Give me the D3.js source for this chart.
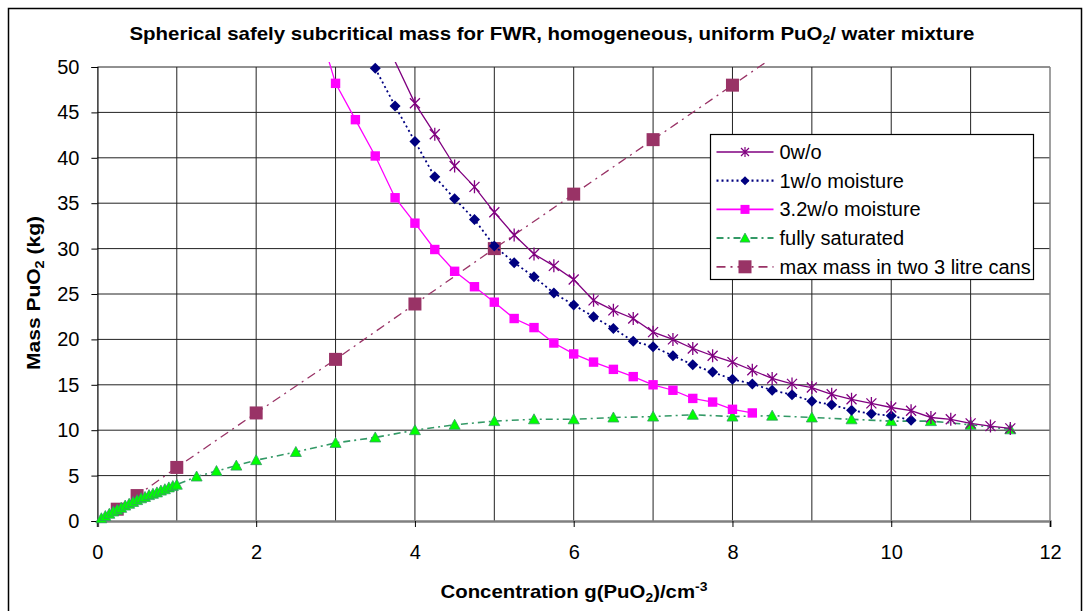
<!DOCTYPE html>
<html>
<head>
<meta charset="utf-8">
<script src="https://cdn.jsdelivr.net/npm/d3@7"></script>
<style>
body { margin: 0; background: #fff; }
svg { display: block; }
text { font-family: "Liberation Sans", Arial, sans-serif; fill: #000; }
</style>
</head>
<body>
<svg width="1088" height="611"></svg>
<script>
'use strict';

// 0w/o
var x0 = [3.75, 4, 4.25, 4.5, 4.75, 5, 5.25, 5.5, 5.75, 6, 6.25, 6.5, 6.75, 7, 7.25, 7.5, 7.75, 8, 8.25, 8.5, 8.75, 9, 9.25, 9.5, 9.75, 10, 10.25, 10.5, 10.75, 11, 11.25, 11.5];
var y0 = [50.6, 46.0, 42.6, 39.1, 36.8, 34.0, 31.5, 29.4, 28.1, 26.6, 24.3, 23.2, 22.3, 20.8, 20.0, 19.0, 18.2, 17.5, 16.6, 15.7, 15.1, 14.7, 13.95, 13.4, 12.95, 12.5, 12.15, 11.4, 11.2, 10.75, 10.45, 10.2];
// 1w/o moisture
var x1 = [3.5, 3.75, 4, 4.25, 4.5, 4.75, 5, 5.25, 5.5, 5.75, 6, 6.25, 6.5, 6.75, 7, 7.25, 7.5, 7.75, 8, 8.25, 8.5, 8.75, 9, 9.25, 9.5, 9.75, 10, 10.25];
var y1 = [49.85, 45.7, 41.8, 37.9, 35.5, 33.2, 30.3, 28.45, 26.9, 25.1, 23.8, 22.5, 21.2, 19.8, 19.2, 18.2, 17.2, 16.4, 15.6, 15.1, 14.4, 13.9, 13.2, 12.8, 12.2, 11.8, 11.6, 11.1];
// 3.2w/o moisture
var x32 = [2.75, 3, 3.25, 3.5, 3.75, 4, 4.25, 4.5, 4.75, 5, 5.25, 5.5, 5.75, 6, 6.25, 6.5, 6.75, 7, 7.25, 7.5, 7.75, 8, 8.25];
var y32 = [55.5, 48.2, 44.2, 40.2, 35.6, 32.8, 29.9, 27.5, 25.8, 24.1, 22.3, 21.3, 19.6, 18.4, 17.5, 16.7, 15.9, 15.0, 14.4, 13.5, 13.1, 12.3, 11.9];
// fully saturated
var xSat = [0.05, 0.1, 0.15, 0.2, 0.25, 0.3, 0.35, 0.4, 0.45, 0.5, 0.55, 0.6, 0.65, 0.7, 0.75, 0.8, 0.85, 0.9, 0.95, 1, 1.25, 1.5, 1.75, 2, 2.5, 3, 3.5, 4, 4.5, 5, 5.5, 6, 6.5, 7, 7.5, 8, 8.5, 9, 9.5, 10, 10.5, 11, 11.5];
var ySat = [0.3, 0.55, 0.8, 1.05, 1.25, 1.45, 1.7, 1.9, 2.1, 2.3, 2.5, 2.65, 2.85, 3.0, 3.15, 3.35, 3.5, 3.7, 3.85, 4.0, 4.9, 5.5, 6.1, 6.7, 7.6, 8.6, 9.2, 10.0, 10.6, 11.0, 11.2, 11.2, 11.4, 11.5, 11.7, 11.5, 11.6, 11.4, 11.2, 11.0, 11.0, 10.6, 10.1];
// max mass in two 3 litre cans
var xCan = [0.25, 0.5, 1, 2, 3, 4, 5, 6, 7, 8, 9];
var yCan = [1.3, 2.8, 5.9, 11.9, 17.8, 23.9, 30, 36, 42, 48, 54];

var xTicks = [0, 2, 4, 6, 8, 10, 12];
var yTicks = [0, 5, 10, 15, 20, 25, 30, 35, 40, 45, 50];
var xGrid = [1, 2, 3, 4, 5, 6, 7, 8, 9, 10, 11];

(function() {
var svg = d3.select("svg");
var pLeft = 97.4, pRight = 1050, pTop = 67, pBottom = 521;

var x = d3.scaleLinear().domain([0, 12]).range([pLeft, pRight]);
var y = d3.scaleLinear().domain([0, 50]).range([pBottom, pTop]);

// outer frame
svg.append("rect").attr("x", 8.5).attr("y", 8.5).attr("width", 1073).attr("height", 620)
    .attr("fill", "#fff").attr("stroke", "#000").attr("stroke-width", 1.5);

// gridlines
svg.append("g").selectAll("line").data(xGrid).enter().append("line")
    .attr("x1", function(d) { return x(d); }).attr("x2", function(d) { return x(d); })
    .attr("y1", pTop).attr("y2", pBottom)
    .attr("stroke", "#222").attr("stroke-width", 1);
svg.append("g").selectAll("line").data(yTicks.slice(1)).enter().append("line")
    .attr("x1", pLeft).attr("x2", pRight)
    .attr("y1", function(d) { return y(d); }).attr("y2", function(d) { return y(d); })
    .attr("stroke", "#222").attr("stroke-width", 1);
// plot right edge
svg.append("line").attr("x1", pRight).attr("x2", pRight).attr("y1", pTop).attr("y2", pBottom)
    .attr("stroke", "#808080").attr("stroke-width", 1.5);

// axes
var yAxis = svg.append("g").attr("transform", "translate(" + pLeft + ",0)")
    .call(d3.axisLeft(y).tickValues(yTicks).tickSize(6).tickPadding(12));
var xAxis = svg.append("g").attr("transform", "translate(0," + pBottom + ")")
    .call(d3.axisBottom(x).tickValues(xTicks).tickSize(6).tickPadding(18));
yAxis.select(".domain").attr("stroke", "#000").attr("stroke-width", 1.2);
xAxis.select(".domain").attr("stroke", "#808080").attr("stroke-width", 2.5);
svg.selectAll(".tick line").attr("stroke", "#000");
svg.selectAll(".tick text").attr("font-size", 20).attr("font-family", "Liberation Sans, Arial, sans-serif").attr("fill", "#000");

// clip for lines (slightly above the plot top)
svg.append("clipPath").attr("id", "clipLines").append("rect")
    .attr("x", pLeft).attr("y", pTop - 5).attr("width", pRight - pLeft).attr("height", pBottom - pTop + 10);

var series = [
  { name: "0w/o", xs: x0, ys: y0, color: "#800080", dash: null, width: 1.3, marker: "star" },
  { name: "1w/o moisture", xs: x1, ys: y1, color: "#000080", dash: "2,3", width: 1.8, marker: "diamond" },
  { name: "3.2w/o moisture", xs: x32, ys: y32, color: "#FF00FF", dash: null, width: 1.3, marker: "square" },
  { name: "fully saturated", xs: xSat, ys: ySat, color: "#339966", dash: "7,4,2,4", width: 1.6, marker: "triangle" },
  { name: "max mass in two 3 litre cans", xs: xCan, ys: yCan, color: "#993366", dash: "9,5,2,5", width: 1.3, marker: "bigsquare" }
];

var line = d3.line().x(function(d) { return x(d[0]); }).y(function(d) { return y(d[1]); });

function drawMarker(g, type, color) {
  if (type === "star") {
    g.append("path").attr("d", "M-5,-5L5,5M-5,5L5,-5M0,-6.5L0,6.5")
        .attr("stroke", color).attr("stroke-width", 1.3).attr("fill", "none");
  } else if (type === "diamond") {
    g.append("path").attr("d", "M0,-5.5L5.5,0L0,5.5L-5.5,0Z").attr("fill", color);
  } else if (type === "square") {
    g.append("rect").attr("x", -4.7).attr("y", -4.7).attr("width", 9.4).attr("height", 9.4).attr("fill", color);
  } else if (type === "triangle") {
    g.append("path").attr("d", "M0,-5.5L5.5,4.5L-5.5,4.5Z").attr("fill", "#00FF00")
        .attr("stroke", "#339966").attr("stroke-width", 0.8);
  } else if (type === "bigsquare") {
    g.append("rect").attr("x", -6.5).attr("y", -6.5).attr("width", 13).attr("height", 13).attr("fill", color);
  }
}

// draw in reverse so the first series sits on top
series.slice().reverse().forEach(function(s) {
  var pts = s.xs.map(function(v, i) { return [v, s.ys[i]]; });
  svg.append("path").datum(pts)
      .attr("clip-path", "url(#clipLines)")
      .attr("d", line)
      .attr("fill", "none")
      .attr("stroke", s.color)
      .attr("stroke-width", s.width)
      .attr("stroke-dasharray", s.dash);
  var mk = svg.append("g").selectAll("g").data(pts.filter(function(p) { return p[1] <= 50; }))
      .enter().append("g")
      .attr("transform", function(d) { return "translate(" + x(d[0]) + "," + y(d[1]) + ")"; });
  mk.each(function() { drawMarker(d3.select(this), s.marker, s.color); });
});

// legend
var lg = svg.append("g").attr("transform", "translate(710.5,134.5)");
lg.append("rect").attr("width", 323).attr("height", 145).attr("fill", "#fff").attr("stroke", "#000").attr("stroke-width", 1.2);
series.forEach(function(s, i) {
  var yy = 17.5 + i * 28.7;
  lg.append("line").attr("x1", 6).attr("x2", 63).attr("y1", yy).attr("y2", yy)
      .attr("stroke", s.color).attr("stroke-width", s.width + 0.4).attr("stroke-dasharray", s.dash);
  var m = lg.append("g").attr("transform", "translate(34.5," + yy + ")");
  if (s.marker === "star") {
    m.append("path").attr("d", "M-4,-4L4,4M-4,4L4,-4M0,-5L0,5").attr("stroke", s.color).attr("stroke-width", 1.2);
  } else if (s.marker === "diamond") {
    m.append("path").attr("d", "M0,-4.5L4.5,0L0,4.5L-4.5,0Z").attr("fill", s.color);
  } else if (s.marker === "square") {
    m.append("rect").attr("x", -4.5).attr("y", -4.5).attr("width", 9).attr("height", 9).attr("fill", s.color);
  } else if (s.marker === "triangle") {
    m.append("path").attr("d", "M0,-5L5,4L-5,4Z").attr("fill", "#00FF00").attr("stroke", "#339966").attr("stroke-width", 0.8);
  } else {
    m.append("rect").attr("x", -6.5).attr("y", -6.5).attr("width", 13).attr("height", 13).attr("fill", s.color);
  }
  lg.append("text").attr("x", 69).attr("y", yy + 7).attr("font-size", 20).text(s.name);
});

// title
var title = svg.append("text").attr("x", 552).attr("y", 40).attr("text-anchor", "middle")
    .attr("font-size", 19).attr("font-weight", "bold")
    .attr("textLength", 845).attr("lengthAdjust", "spacingAndGlyphs");
title.append("tspan").text("Spherical safely subcritical mass for FWR, homogeneous, uniform PuO");
title.append("tspan").attr("font-size", 13).attr("dy", 4).text("2");
title.append("tspan").attr("dy", -4).text("/ water mixture");

// y axis title
var yt = svg.append("text").attr("transform", "translate(40,293) rotate(-90)")
    .attr("text-anchor", "middle").attr("font-size", 19).attr("font-weight", "bold")
    .attr("textLength", 154).attr("lengthAdjust", "spacingAndGlyphs");
yt.append("tspan").text("Mass PuO");
yt.append("tspan").attr("font-size", 13).attr("dy", 4).text("2");
yt.append("tspan").attr("dy", -4).text(" (kg)");

// x axis title
var xt = svg.append("text").attr("x", 574).attr("y", 598).attr("text-anchor", "middle")
    .attr("font-size", 19).attr("font-weight", "bold")
    .attr("textLength", 267).attr("lengthAdjust", "spacingAndGlyphs");
xt.append("tspan").text("Concentration g(PuO");
xt.append("tspan").attr("font-size", 13).attr("dy", 4).text("2");
xt.append("tspan").attr("dy", -4).text(")/cm");
xt.append("tspan").attr("font-size", 13).attr("dy", -7).text("-3");
})();
</script>
</body>
</html>
